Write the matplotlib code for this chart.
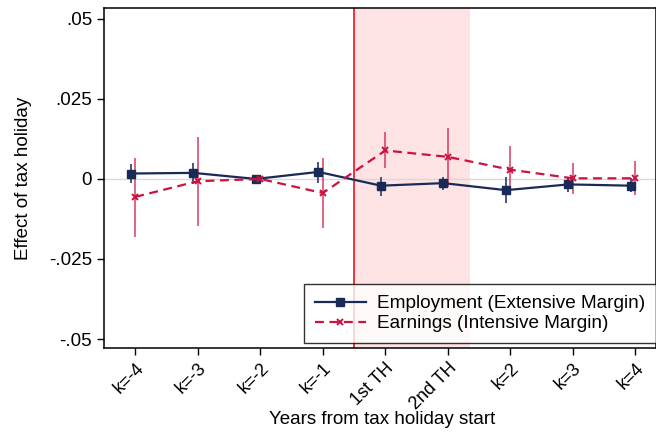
import numpy as np
import matplotlib.pyplot as plt

plt.rcParams['font.family'] = ['Liberation Sans', 'DejaVu Sans']

labels = ['k=-4', 'k=-3', 'k=-2', 'k=-1', '1st TH', '2nd TH', 'k=2', 'k=3', 'k=4']

emp = [0.0017, 0.0019, 0.0, 0.0022, -0.0021, -0.0013, -0.0035, -0.0017, -0.0021]
emp_lo = [-0.0013, -0.0017, 0.0, -0.0012, -0.0052, -0.0033, -0.0075, -0.0040, -0.0040]
emp_hi = [0.0046, 0.0051, 0.0, 0.0053, 0.0007, 0.0006, 0.0006, 0.0006, 0.0003]

earn = [-0.0056, -0.0007, 0.0, -0.0044, 0.0089, 0.0069, 0.0029, 0.0002, 0.0002]
earn_lo = [-0.0180, -0.0146, 0.0, -0.0154, 0.0033, -0.0024, -0.0043, -0.0048, -0.0051]
earn_hi = [0.0066, 0.0132, 0.0, 0.0065, 0.0147, 0.0158, 0.0103, 0.0051, 0.0056]

navy = '#1a2a57'
crimson = '#cc1240'

x = np.arange(len(labels))
xe = x - 0.07

fig = plt.figure(figsize=(6.56, 4.32), dpi=100)
ax = fig.add_axes([104/656, 1 - 348/432, 1 - 104/656, 340/432])

ax.axvspan(3.5, 5.35, color='#fde3e3', zorder=0, lw=0)
ax.axvline(3.5, color='#e8141c', lw=1.2, zorder=1)
ax.axhline(0, color='#d9d9d9', lw=1, zorder=1)

ax.vlines(xe, emp_lo, emp_hi, color=navy, lw=1.1, zorder=3)
ax.vlines(x, earn_lo, earn_hi, color=crimson, lw=1.2, alpha=0.75, zorder=3)

ax.plot(xe, emp, color=navy, lw=1.6, marker='s', ms=5.5, zorder=4,
        label='Employment (Extensive Margin)')
ax.plot(x, earn, color=crimson, lw=1.6, ls=(0, (4, 2.5)), marker='x', ms=4,
        mew=1.4, zorder=4, label='Earnings (Intensive Margin)')

ax.set_xlim(-0.5, 8.33)
ax.set_ylim(-0.0528, 0.0534)
ax.set_xticks(x)
ax.set_xticklabels(labels, rotation=45, ha='right', va='top',
                   rotation_mode='anchor', fontsize=13)
ax.set_yticks([0.05, 0.025, 0, -0.025, -0.05])
ax.set_yticklabels(['.05', '.025', '0', '-.025', '-.05'], fontsize=13.5)
ax.tick_params(direction='out', length=5, width=1)
ax.set_ylabel('Effect of tax holiday', fontsize=13.5, labelpad=12)
fig.text(382/656, 1 - 419/432, 'Years from tax holiday start', fontsize=13.5,
         ha='center', va='center')
for s in ax.spines.values():
    s.set_linewidth(1.1)

leg = ax.legend(loc='lower right', fontsize=13.7, frameon=True, fancybox=False,
                edgecolor='black', bbox_to_anchor=(1.0, 0.015), borderaxespad=0.0,
                handlelength=2.7, handletextpad=0.6, numpoints=1,
                borderpad=0.55, labelspacing=0.15)
leg.get_frame().set_linewidth(1.0)

fig.savefig('out.png', dpi=100)
